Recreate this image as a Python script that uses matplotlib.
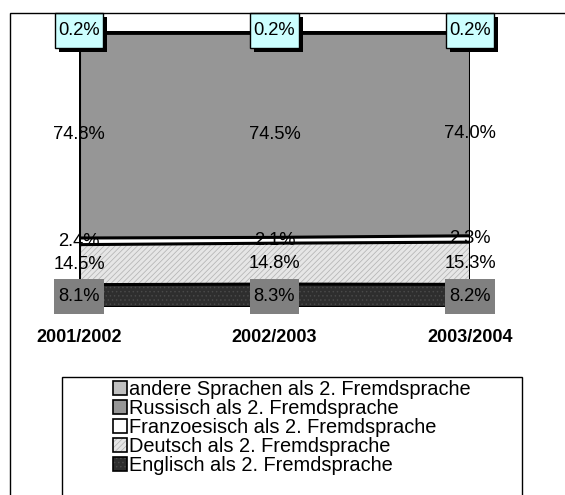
import matplotlib
matplotlib.use("Agg")
import matplotlib.pyplot as plt
import numpy as np
from matplotlib.patches import Patch, Rectangle
from matplotlib.path import Path
from matplotlib import patheffects

plt.rcParams['font.family'] = ['Liberation Sans', 'DejaVu Sans']
plt.rcParams['hatch.linewidth'] = 0.55

categories = ["2001/2002", "2002/2003", "2003/2004"]
englisch = [8.1, 8.3, 8.2]
deutsch = [14.5, 14.8, 15.3]
franz = [2.4, 2.1, 2.3]
russisch = [74.8, 74.5, 74.0]
andere = [0.2, 0.2, 0.2]

series_names = ["Englisch als 2. Fremdsprache", "Deutsch als 2. Fremdsprache",
                "Franzoesisch als 2. Fremdsprache", "Russisch als 2. Fremdsprache",
                "andere Sprachen als 2. Fremdsprache"]
series_vals = [englisch, deutsch, franz, russisch, andere]
face_colors = ["#2e2e2e", "#e6e6e6", "#ffffff", "#969696", "#c0c0c0"]
hatches = ["....", "//////", None, None, None]
hatch_colors = ["#4a4a4a", "#b4b4b4", None, None, None]


class PadBox:
    """Square box with separate horizontal / vertical padding (in pixels)."""
    def __init__(self, padx, pady):
        self.padx, self.pady = padx, pady

    def __call__(self, x0, y0, width, height, mutation_size):
        x0 -= self.padx
        y0 -= self.pady
        x1 = x0 + width + 2 * self.padx
        y1 = y0 + height + 2 * self.pady
        return Path([(x0, y0), (x1, y0), (x1, y1), (x0, y1), (x0, y0)], closed=True)


W, H = 565, 495
fig = plt.figure(figsize=(W / 100, H / 100), dpi=100)
ax = fig.add_axes([79 / W, 1 - 307 / H, 391 / W, 276 / H])

x = np.arange(len(categories))
data = np.array(series_vals, dtype=float)
totals = data.sum(axis=0)
pct = data / totals * 100
cum = np.vstack([np.zeros(len(x)), np.cumsum(pct, axis=0)])

for i in range(len(series_vals)):
    ax.fill_between(x, cum[i], cum[i + 1], facecolor=face_colors[i], edgecolor="none", lw=0, zorder=1)
    if hatches[i]:
        ax.fill_between(x, cum[i], cum[i + 1], facecolor="none", edgecolor=hatch_colors[i],
                        hatch=hatches[i], lw=0, zorder=1.5)
for i in range(len(series_vals) + 1):
    ax.plot(x, cum[i], color="black", lw=2.2, zorder=2, solid_capstyle="butt")
ax.plot(x, cum[-1] - 0.6, color="black", lw=2.0, zorder=2, solid_capstyle="butt")
ax.plot([x[0], x[0]], [0, 100], color="black", lw=2.2, zorder=2)
ax.plot([x[-1], x[-1]], [0, 100], color="black", lw=2.2, zorder=2)

ax.set_xlim(x[0], x[-1])
ax.set_ylim(0, 100)
for s in ax.spines.values():
    s.set_visible(False)
ax.set_yticks([])
ax.set_xticks(x)
ax.set_xticklabels(categories, fontsize=13, fontweight="bold")
ax.tick_params(axis="x", length=0, pad=16)

fs = 13.2
shadow = [patheffects.SimplePatchShadow(offset=(3.0, -3.2), shadow_rgbFace="black", alpha=1.0),
          patheffects.Normal()]
for j in range(len(x)):
    for i in range(len(series_vals)):
        ymid = (cum[i][j] + cum[i + 1][j]) / 2
        txt = f"{series_vals[i][j]:.1f}%"
        if i == 0:
            ax.text(x[j], ymid - 0.4, txt, ha="center", va="center", fontsize=fs, zorder=5,
                    clip_on=False,
                    bbox=dict(boxstyle=PadBox(4, 9), facecolor="#808080", edgecolor="none"))
        elif i == len(series_vals) - 1:
            t = ax.text(x[j], ymid + 0.4, txt, ha="center", va="center", fontsize=fs, zorder=5,
                        clip_on=False,
                        bbox=dict(boxstyle=PadBox(3.5, 9), facecolor="#ccffff",
                                  edgecolor="black", lw=1))
            t.get_bbox_patch().set_path_effects(shadow)
        else:
            ax.text(x[j], ymid, txt, ha="center", va="center", fontsize=fs, zorder=5, clip_on=False)

# legend (top to bottom: reverse order)
handles = []
labels = []
for i in reversed(range(len(series_vals))):
    if hatches[i]:
        h = (Patch(facecolor=face_colors[i], edgecolor=hatch_colors[i], hatch=hatches[i], lw=0),
             Patch(facecolor="none", edgecolor="black", lw=1.2))
    else:
        h = Patch(facecolor=face_colors[i], edgecolor="black", lw=1.2)
    handles.append(h)
    labels.append(series_names[i])
fig.legend(handles, labels, loc="upper left", bbox_to_anchor=(103 / W, 1 - 370 / H),
           bbox_transform=fig.transFigure, frameon=False, fontsize=14.4, borderpad=0,
           labelspacing=0.0, handlelength=0.68, handleheight=0.68, handletextpad=0.12)

# legend frame and outer frame
fig.add_artist(Rectangle((62 / W, -0.1), (522 - 62) / W, (H - 377) / H + 0.1,
                         transform=fig.transFigure, fill=False, edgecolor="black", lw=1))
fig.add_artist(Rectangle((10 / W, -0.1), 1.2, (H - 13) / H + 0.1,
                         transform=fig.transFigure, fill=False, edgecolor="black", lw=1))

fig.savefig("out.png", dpi=100)
